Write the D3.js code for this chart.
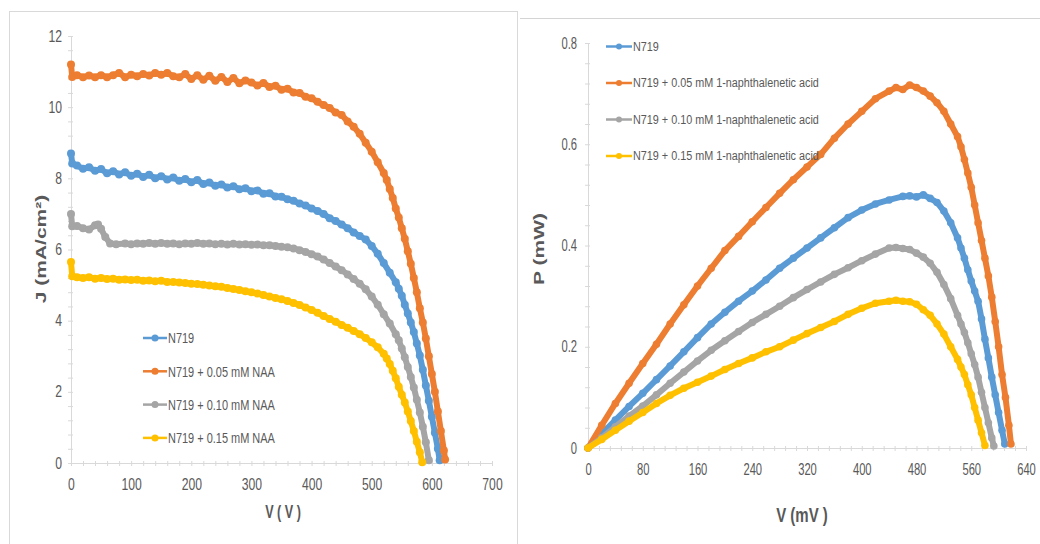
<!DOCTYPE html>
<html>
<head>
<meta charset="utf-8">
<script src="https://cdnjs.cloudflare.com/ajax/libs/d3/7.8.5/d3.min.js"></script>
<style>
body{margin:0;background:#fff;}
svg text{font-family:"Liberation Sans",Arial,sans-serif;fill:#595959;}
</style>
</head>
<body>
<div id="chart"></div>
<script>
// series labels and colours
var namesJV = ["N719", "N719 + 0.05 mM NAA", "N719 + 0.10 mM NAA", "N719 + 0.15 mM NAA"];
var namesPV = ["N719", "N719 + 0.05 mM 1-naphthalenetic acid", "N719 + 0.10 mM 1-naphthalenetic acid", "N719 + 0.15 mM 1-naphthalenetic acid"];
var colors = ["#5b9bd5", "#ed7d31", "#a5a5a5", "#ffc000"];

// J-V curves, [V, J (mA/cm2)]
var jvN719 = [[0,8.7],[2,8.42],[10,8.36],[20,8.27],[30,8.31],[40,8.21],[50,8.26],[60,8.14],[70,8.2],[80,8.11],[90,8.17],[100,8.07],[110,8.13],[120,8.04],[130,8.1],[140,8.0],[150,8.06],[160,7.97],[170,8.02],[180,7.93],[190,7.98],[200,7.89],[210,7.95],[220,7.84],[230,7.88],[240,7.79],[250,7.83],[260,7.74],[270,7.78],[280,7.69],[290,7.72],[300,7.64],[310,7.66],[320,7.57],[330,7.58],[340,7.49],[350,7.48],[360,7.41],[370,7.37],[380,7.29],[390,7.24],[400,7.15],[410,7.08],[420,7.0],[430,6.88],[440,6.8],[450,6.7],[460,6.6],[470,6.48],[480,6.38],[490,6.28],[500,6.1],[510,5.88],[520,5.62],[530,5.35],[540,5.08],[545,4.9],[550,4.7],[555,4.45],[560,4.2],[565,3.95],[570,3.68],[575,3.36],[580,3.02],[585,2.62],[590,2.18],[595,1.75],[600,1.3],[605,0.85],[610,0.4],[613,0.08]];
var jvNaa005 = [[0,11.2],[2,10.85],[10,10.9],[20,10.84],[30,10.89],[40,10.84],[50,10.9],[60,10.84],[70,10.9],[80,10.96],[90,10.84],[100,10.91],[110,10.87],[120,10.93],[130,10.89],[140,10.96],[150,10.91],[160,10.96],[170,10.87],[180,10.84],[190,10.93],[200,10.79],[210,10.9],[220,10.77],[230,10.88],[240,10.74],[250,10.85],[260,10.71],[270,10.82],[280,10.67],[290,10.75],[300,10.69],[310,10.61],[320,10.68],[330,10.57],[340,10.6],[350,10.49],[360,10.52],[370,10.41],[380,10.4],[390,10.29],[400,10.25],[410,10.15],[420,10.06],[430,9.98],[440,9.85],[450,9.78],[460,9.6],[470,9.45],[480,9.25],[490,9.0],[500,8.75],[510,8.45],[520,8.15],[525,7.95],[530,7.7],[535,7.45],[540,7.15],[545,6.9],[550,6.6],[555,6.3],[560,5.95],[565,5.6],[570,5.2],[575,4.8],[580,4.35],[585,3.95],[590,3.5],[595,3.0],[600,2.5],[605,2.0],[610,1.45],[615,0.9],[620,0.35],[622,0.1]];
var jvNaa010 = [[0,7.0],[2,6.65],[10,6.66],[20,6.6],[30,6.56],[40,6.68],[45,6.7],[50,6.58],[57,6.35],[65,6.17],[75,6.15],[90,6.17],[100,6.15],[110,6.17],[120,6.16],[130,6.18],[140,6.16],[150,6.18],[160,6.16],[170,6.17],[180,6.15],[190,6.17],[200,6.16],[210,6.18],[220,6.16],[230,6.17],[240,6.15],[250,6.16],[260,6.14],[270,6.16],[280,6.14],[290,6.15],[300,6.13],[310,6.14],[320,6.12],[330,6.12],[340,6.1],[350,6.08],[360,6.06],[370,6.03],[380,5.98],[390,5.93],[400,5.87],[410,5.8],[420,5.72],[430,5.62],[440,5.52],[450,5.42],[460,5.3],[470,5.17],[480,5.04],[490,4.88],[500,4.68],[510,4.45],[520,4.18],[530,3.92],[540,3.62],[545,3.45],[550,3.22],[555,2.97],[560,2.7],[565,2.42],[570,2.12],[575,1.78],[580,1.42],[585,1.02],[590,0.58],[595,0.08]];
var jvNaa015 = [[0,5.65],[2,5.25],[10,5.22],[20,5.2],[30,5.22],[40,5.18],[50,5.2],[60,5.17],[70,5.18],[80,5.15],[90,5.16],[100,5.14],[110,5.15],[120,5.12],[130,5.13],[140,5.11],[150,5.12],[160,5.09],[170,5.09],[180,5.07],[190,5.06],[200,5.04],[210,5.03],[220,5.01],[230,4.99],[240,4.97],[250,4.95],[260,4.92],[270,4.89],[280,4.86],[290,4.83],[300,4.8],[310,4.76],[320,4.72],[330,4.68],[340,4.64],[350,4.6],[360,4.55],[370,4.5],[380,4.44],[390,4.37],[400,4.3],[410,4.22],[420,4.13],[430,4.05],[440,3.97],[450,3.88],[460,3.8],[470,3.71],[480,3.62],[490,3.51],[500,3.39],[510,3.25],[520,3.07],[525,2.94],[530,2.78],[535,2.59],[540,2.38],[545,2.14],[550,1.92],[555,1.7],[560,1.45],[565,1.18],[570,0.9],[575,0.6],[580,0.3],[584,0.02]];

// P-V curves, [V (mV), P (mW)]
var pvN719 = [[0,0],[20,0.028],[40,0.055],[60,0.082],[80,0.108],[100,0.135],[120,0.162],[140,0.19],[160,0.218],[180,0.245],[200,0.268],[220,0.29],[240,0.31],[260,0.332],[280,0.355],[300,0.375],[320,0.395],[340,0.415],[360,0.435],[380,0.455],[400,0.47],[420,0.482],[440,0.49],[460,0.497],[470,0.498],[480,0.496],[490,0.5],[500,0.493],[510,0.485],[520,0.468],[530,0.445],[540,0.415],[545,0.395],[550,0.375],[555,0.352],[560,0.33],[565,0.31],[570,0.29],[575,0.255],[580,0.215],[585,0.178],[590,0.14],[595,0.105],[600,0.07],[605,0.035],[609,0.008]];
var pvNaa005 = [[0,0],[20,0.045],[40,0.088],[60,0.128],[80,0.167],[100,0.205],[120,0.245],[140,0.283],[160,0.32],[180,0.355],[200,0.39],[220,0.418],[240,0.447],[260,0.475],[280,0.503],[300,0.53],[320,0.555],[340,0.58],[360,0.612],[380,0.64],[400,0.665],[420,0.69],[440,0.705],[450,0.712],[460,0.708],[470,0.717],[480,0.712],[490,0.705],[500,0.695],[510,0.682],[520,0.665],[530,0.64],[540,0.615],[545,0.595],[550,0.57],[555,0.543],[560,0.515],[565,0.48],[570,0.445],[575,0.41],[580,0.375],[585,0.34],[590,0.298],[595,0.25],[600,0.2],[605,0.145],[610,0.1],[615,0.045],[618,0.008]];
var pvNaa010 = [[0,0],[20,0.02],[40,0.042],[60,0.063],[80,0.083],[100,0.105],[120,0.128],[140,0.15],[160,0.172],[180,0.193],[200,0.212],[220,0.23],[240,0.248],[260,0.264],[280,0.28],[300,0.297],[320,0.313],[340,0.328],[360,0.343],[380,0.356],[400,0.37],[420,0.383],[440,0.395],[450,0.396],[460,0.394],[470,0.392],[480,0.385],[490,0.377],[500,0.365],[510,0.347],[520,0.323],[530,0.295],[540,0.262],[545,0.245],[550,0.228],[555,0.208],[560,0.186],[565,0.165],[570,0.14],[575,0.11],[580,0.08],[585,0.05],[590,0.02],[593,0.004]];
var pvNaa015 = [[0,0],[20,0.017],[40,0.035],[60,0.053],[80,0.07],[100,0.088],[120,0.104],[140,0.118],[160,0.13],[180,0.142],[200,0.155],[220,0.167],[240,0.178],[260,0.19],[280,0.2],[300,0.213],[320,0.226],[340,0.238],[360,0.25],[380,0.264],[400,0.276],[420,0.286],[440,0.29],[450,0.292],[460,0.29],[470,0.289],[480,0.284],[490,0.273],[500,0.262],[510,0.245],[520,0.225],[530,0.2],[540,0.175],[545,0.16],[550,0.145],[555,0.125],[560,0.105],[565,0.08],[570,0.055],[575,0.03],[580,0.005]];

// axis ticks
var jvXTicks = [0, 100, 200, 300, 400, 500, 600, 700];
var jvYTicks = [0, 2, 4, 6, 8, 10, 12];
var pvXTicks = [0, 80, 160, 240, 320, 400, 480, 560, 640];
var pvYTicks = [0, 0.2, 0.4, 0.6, 0.8];

var svg = d3.select("#chart").append("svg")
	.attr("width", 1040)
	.attr("height", 544);

// panel frames
svg.append("rect").attr("x", 9.5).attr("y", 11.5).attr("width", 508).attr("height", 540)
	.attr("fill", "none").attr("stroke", "#d9d9d9");
svg.append("line").attr("x1", 520).attr("x2", 1040).attr("y1", 18.5).attr("y2", 18.5)
	.attr("stroke", "#d4d4d4");

// shrink text horizontally (the source picture is squeezed)
function squeeze(sel, k) {
	sel.each(function() {
		var w = this.getComputedTextLength();
		d3.select(this).attr("textLength", w * k).attr("lengthAdjust", "spacingAndGlyphs");
	});
}

function range(a, b, step) {
	return d3.range(0, Math.round((b - a) / step) + 1).map(function(i) { return +(a + i * step).toFixed(4); });
}

function drawPanel(p) {
	var g = svg.append("g");
	var x = p.x, y = p.y;

	// minor ticks + axis lines
	var xm = g.append("g").attr("transform", "translate(0," + y(0) + ")")
		.call(d3.axisBottom(x).tickValues(p.xMinor).tickSizeInner(3).tickSizeOuter(0).tickFormat(""));
	var ym = g.append("g").attr("transform", "translate(" + x(0) + ",0)")
		.call(d3.axisLeft(y).tickValues(p.yMinor).tickSizeInner(3).tickSizeOuter(0).tickFormat(""));
	xm.selectAll("line").attr("y1", -2).attr("stroke", "#d9d9d9");
	ym.selectAll("line").attr("x1", 2).attr("stroke", "#d9d9d9");
	g.selectAll(".domain").attr("stroke", "#d9d9d9");

	// labels
	var xl = g.append("g").attr("transform", "translate(0," + y(0) + ")")
		.call(d3.axisBottom(x).tickValues(p.xTicks).tickSize(0).tickPadding(p.xPad));
	var yl = g.append("g").attr("transform", "translate(" + x(0) + ",0)")
		.call(d3.axisLeft(y).tickValues(p.yTicks).tickSize(0).tickPadding(p.yPad).tickFormat(p.yFmt));
	xl.select(".domain").remove();
	yl.select(".domain").remove();
	g.selectAll(".tick text").attr("fill", "#595959").style("font-size", p.tickFont + "px")
		.style("font-family", "'Liberation Sans',Arial,sans-serif");
	squeeze(xl.selectAll("text"), p.tickK);
	squeeze(yl.selectAll("text"), p.tickK);

	// axis titles
	var xt = g.append("text").attr("x", p.xTitle[0]).attr("y", p.xTitle[1])
		.attr("text-anchor", "middle").style("font-size", p.xTitleFont + "px").style("font-weight", "bold")
		.text(p.xLabel);
	squeeze(xt, p.xTitleK);
	g.append("text").attr("transform", "translate(" + p.yTitle[0] + "," + p.yTitle[1] + ") rotate(-90) scale(1," + p.yTitleK + ")")
		.attr("text-anchor", "middle").style("font-size", p.yTitleFont + "px").style("font-weight", "bold")
		.text(p.yLabel);

	// series: thick line with dense circle markers
	var line = d3.line().x(function(d) { return x(d[0]); }).y(function(d) { return y(d[1]); });
	p.series.forEach(function(s, i) {
		var sg = g.append("g");
		sg.append("path").datum(s).attr("d", line).attr("fill", "none")
			.attr("stroke", colors[i]).attr("stroke-width", p.lw)
			.attr("stroke-linejoin", "round").attr("stroke-linecap", "round");
		sg.selectAll("circle").data(s).enter().append("circle")
			.attr("cx", function(d) { return x(d[0]); })
			.attr("cy", function(d) { return y(d[1]); })
			.attr("r", p.r).attr("fill", colors[i]);
	});

	// legend
	var lg = g.append("g");
	p.names.forEach(function(n, i) {
		var yy = p.leg.y0 + i * p.leg.dy;
		lg.append("line").attr("x1", p.leg.x0).attr("x2", p.leg.x0 + p.leg.len)
			.attr("y1", yy).attr("y2", yy).attr("stroke", colors[i]).attr("stroke-width", 2.5);
		lg.append("circle").attr("cx", p.leg.x0 + p.leg.len / 2).attr("cy", yy).attr("r", p.leg.r).attr("fill", colors[i]);
		var t = lg.append("text").attr("x", p.leg.x0 + p.leg.len + 1).attr("y", yy).attr("dy", "0.35em")
			.style("font-size", p.leg.font + "px").attr("fill", p.leg.color).text(n);
		squeeze(t, p.leg.k);
	});
}

drawPanel({
	x: d3.scaleLinear().domain([0, 700]).range([71, 492]),
	y: d3.scaleLinear().domain([0, 12]).range([463, 36]),
	xTicks: jvXTicks, yTicks: jvYTicks,
	xMinor: range(0, 700, 20), yMinor: range(0, 12, 0.4),
	yFmt: d3.format("d"),
	xPad: 16, yPad: 9, tickFont: 16, tickK: 0.76,
	xLabel: "V ( V )", xTitle: [283, 518], xTitleFont: 18, xTitleK: 0.7,
	yLabel: "J (mA/cm²)", yTitle: [46, 249], yTitleFont: 21, yTitleK: 0.72,
	series: [jvN719, jvNaa005, jvNaa010, jvNaa015],
	names: namesJV, lw: 6, r: 4,
	leg: {x0: 143, len: 24, y0: 338, dy: 33.3, r: 3.5, font: 15, k: 0.73, color: "#595959"}
});

drawPanel({
	x: d3.scaleLinear().domain([0, 640]).range([588, 1026]),
	y: d3.scaleLinear().domain([0, 0.8]).range([448, 43]),
	xTicks: pvXTicks, yTicks: pvYTicks,
	xMinor: range(0, 640, 16), yMinor: range(0, 0.8, 0.04),
	yFmt: function(d) { return d === 0 ? "0" : d3.format(".1f")(d); },
	xPad: 16, yPad: 11, tickFont: 16, tickK: 0.7,
	xLabel: "V (mV )", xTitle: [802, 522], xTitleFont: 20, xTitleK: 0.75,
	yLabel: "P (mW)", yTitle: [544, 249], yTitleFont: 21, yTitleK: 0.72,
	series: [pvN719, pvNaa005, pvNaa010, pvNaa015],
	names: namesPV, lw: 6, r: 3.8,
	leg: {x0: 606, len: 26, y0: 46.5, dy: 36.5, r: 3, font: 12, k: 0.9, color: "#7a7a7a"}
});
</script>
</body>
</html>
